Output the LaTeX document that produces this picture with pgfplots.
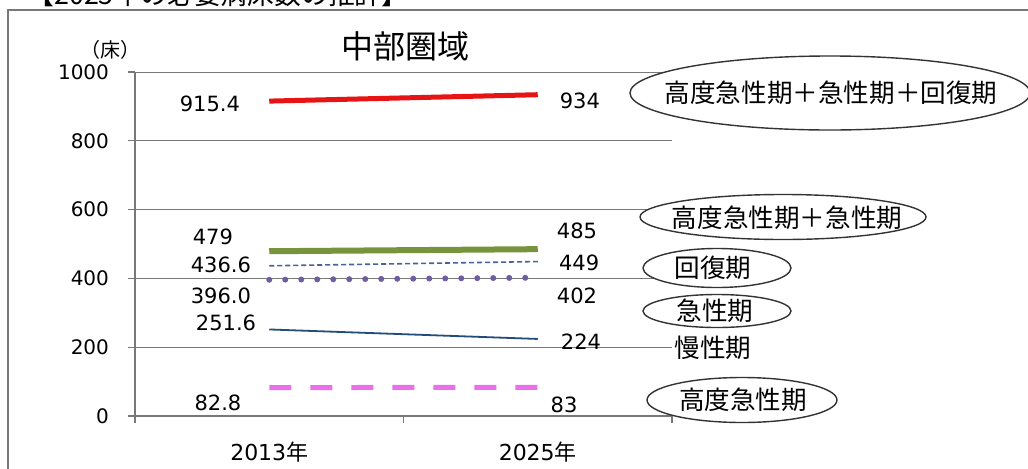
\documentclass[border=0pt]{standalone}
\usepackage{fontspec}
\setmainfont{DejaVu Sans}
\newfontfamily\cjk{Noto Sans CJK JP}
\usepackage{pgfplots}
\pgfplotsset{compat=1.18}
\usetikzlibrary{shapes.geometric}

\definecolor{cRed}{RGB}{230,20,20}
\definecolor{cGreen}{RGB}{119,147,60}
\definecolor{cBlueDash}{RGB}{70,100,150}
\definecolor{cPurple}{RGB}{112,92,160}
\definecolor{cBlue}{RGB}{35,75,125}
\definecolor{cPink}{RGB}{235,110,235}
\definecolor{cAxis}{RGB}{120,120,120}

\begin{document}
\begin{tikzpicture}
\useasboundingbox (0,0) rectangle (514pt,234pt);
\clip (0,0) rectangle (514pt,234pt);

% cut-off heading and frame
\node[font=\cjk\fontsize{13.4}{14}\selectfont] at (109pt,237pt) {【2025年の必要病床数の推計】};
\draw[cAxis, line width=0.8pt] (4pt,-10pt) -- (4pt,229pt) -- (600pt,229pt);

\begin{axis}[
    at={(67.5pt,26pt)}, anchor=south west,
    scale only axis, width=268.5pt, height=172pt,
    xmin=0, xmax=2, ymin=0, ymax=1000,
    axis lines=left,
    axis line style={-, draw=cAxis, line width=0.6pt},
    ytick={0,200,...,1000},
    ymajorgrids, grid style={cAxis, line width=0.5pt},
    xtick={0,1,2}, xticklabels={},
    extra x ticks={0.5,1.5},
    extra x tick labels={{2013{\cjk 年}},{2025{\cjk 年}}},
    extra x tick style={major tick length=0pt, grid=none,
        xticklabel style={anchor=center, yshift=-18pt}},
    tick align=outside, major tick length=3.5pt,
    tick style={cAxis, line width=0.6pt},
    xtick pos=bottom, ytick pos=left,
    yticklabel style={font=\fontsize{10}{11}\selectfont, anchor=east, xshift=-6pt},
    xticklabel style={font=\fontsize{11}{12}\selectfont},
    /pgf/number format/assume math mode=true,
    /pgf/number format/1000 sep={},
    clip=false,
]
\addplot[cRed, line width=2.5pt] coordinates {(0.5,915.4)(1.5,934)};
\addplot[cGreen, line width=3pt] coordinates {(0.5,479)(1.5,485)};
\addplot[cBlueDash, line width=0.8pt, dash pattern=on 2.5pt off 1.5pt] coordinates {(0.5,436.6)(1.5,449)};
\addplot[cPurple, line width=3pt, line cap=round, dash pattern=on 0pt off 8pt] coordinates {(0.5,396)(1.5,402)};
\addplot[cBlue, line width=0.9pt] coordinates {(0.5,251.6)(1.5,224)};
\addplot[cPink, line width=2.5pt, dash pattern=on 11pt off 9.5pt] coordinates {(0.5,82.8)(1.5,83)};

\begin{scope}[every node/.style={font=\fontsize{10.5}{12}\selectfont}]
\node at (axis cs:0.279,907) {915.4};
\node at (axis cs:1.657,916) {934};
\node at (axis cs:0.29,520) {479};
\node at (axis cs:1.646,538) {485};
\node at (axis cs:0.32,439) {436.6};
\node at (axis cs:1.654,445) {449};
\node at (axis cs:0.32,349) {396.0};
\node at (axis cs:1.646,349) {402};
\node at (axis cs:0.339,270) {251.6};
\node at (axis cs:1.661,215) {224};
\node at (axis cs:0.309,38) {82.8};
\node at (axis cs:1.598,32) {83};
\end{scope}
\end{axis}

% title and unit
\node[font=\cjk\fontsize{16}{18}\selectfont] at (202.5pt,211pt) {中部圏域};
\node[font=\cjk\fontsize{10}{12}\selectfont] at (55pt,209pt) {（床）};

% category callouts
\begin{scope}[every node/.style={font=\cjk\fontsize{12.8}{14}\selectfont}]
\draw[black!80, line width=0.7pt, fill=white] (415pt,187.5pt) ellipse [x radius=100pt, y radius=18.5pt];
\node at (415.5pt,187.5pt) {高度急性期＋急性期＋回復期};
\draw[black!80, line width=0.7pt, fill=white] (391.5pt,125.5pt) ellipse [x radius=71.5pt, y radius=11.25pt];
\node at (393.5pt,125pt) {高度急性期＋急性期};
\draw[black!80, line width=0.7pt, fill=white] (358.5pt,100pt) ellipse [x radius=37pt, y radius=9.75pt];
\node at (356.5pt,100pt) {回復期};
\draw[black!80, line width=0.7pt, fill=white] (358.5pt,78.5pt) ellipse [x radius=37pt, y radius=8.25pt];
\node at (357.5pt,78.5pt) {急性期};
\node[fill=white, inner sep=1pt] at (356.5pt,60pt) {慢性期};
\draw[black!80, line width=0.7pt, fill=white] (371pt,34pt) ellipse [x radius=47.5pt, y radius=11.25pt];
\node at (371.5pt,34pt) {高度急性期};
\end{scope}
\end{tikzpicture}
\end{document}
